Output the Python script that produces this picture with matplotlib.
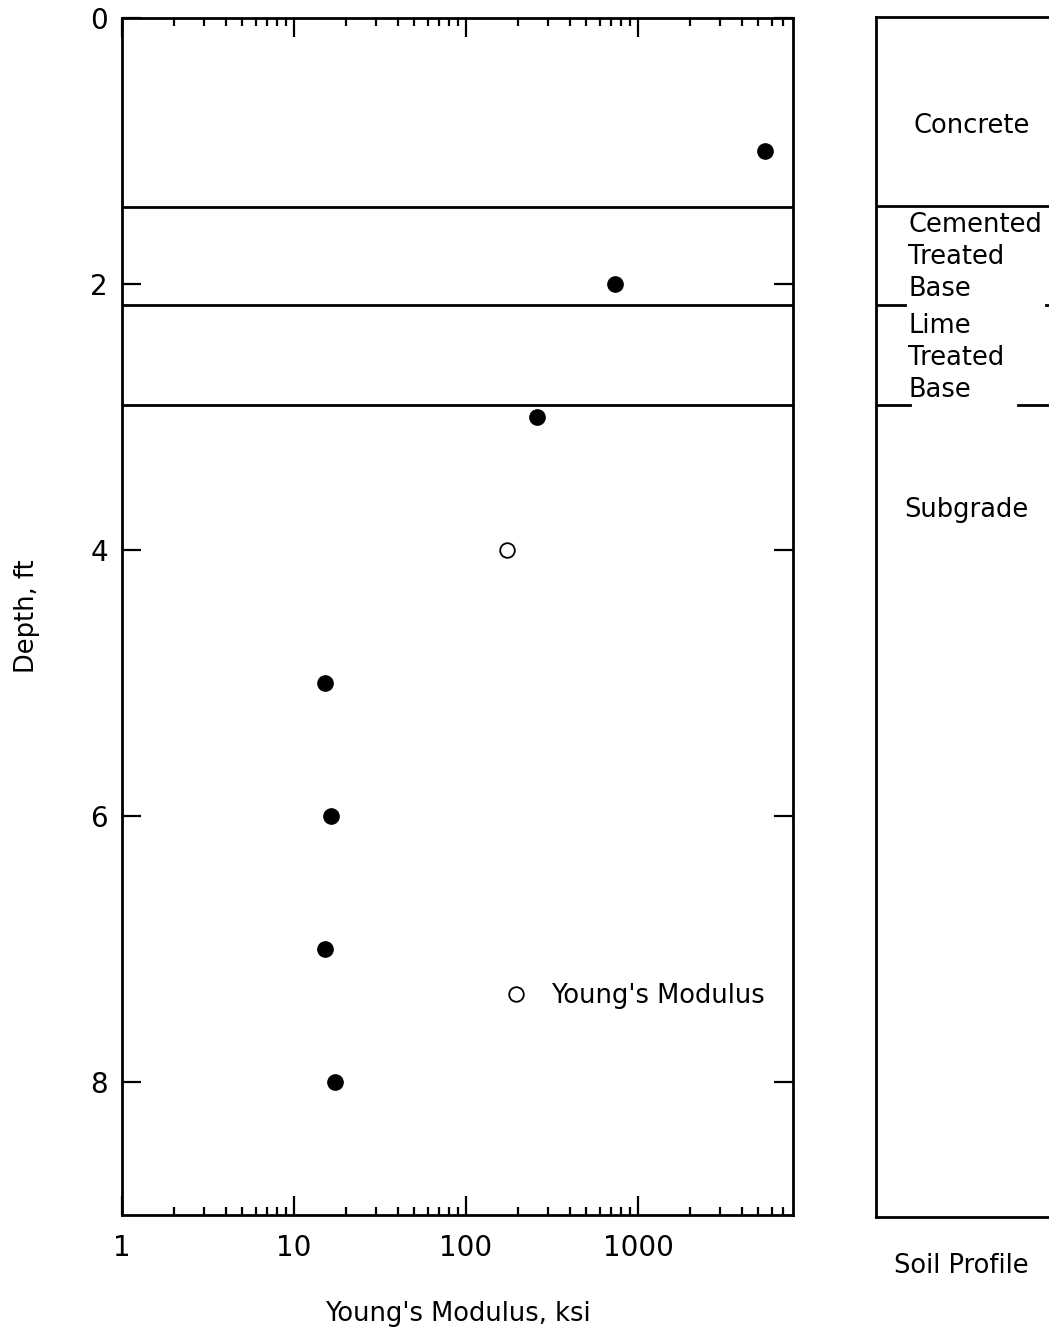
import numpy as np
import matplotlib
matplotlib.use("Agg")
import matplotlib.pyplot as plt
from matplotlib.lines import Line2D

plt.rcParams['font.family'] = ['DejaVu Sans']

# data
depth_filled = [1, 2, 3, 5, 6, 7, 8]
modulus_filled = [5500, 730, 260, 15.2, 16.3, 15.2, 17.4]
depth_open = [4]
modulus_open = [174]

layer_bounds = [1.42, 2.16, 2.91]
layer_names = ["Concrete", "Cemented\nTreated\nBase", "Lime\nTreated\nBase", "Subgrade"]

xticks = [1, 10, 100, 1000]
xticklabels = ["1", "10", "100", "1000"]
yticks = [0, 2, 4, 6, 8]

fs = 18.5

fig = plt.figure(figsize=(10.49, 13.31), dpi=100)
ax = fig.add_axes([0.1163, 0.0872, 0.6397, 0.8993])

ax.plot(modulus_filled, depth_filled, 'o', color='black', ms=11)
ax.plot(modulus_open, depth_open, 'o', mfc='white', mec='black', ms=10.5, mew=1.3)

for b in layer_bounds:
    ax.axhline(b, color='black', lw=2)

ax.set_xscale('log')
ax.set_xlim(1, 7960)
ax.set_ylim(9, 0)
ax.set_xticks(xticks)
ax.set_xticklabels(xticklabels)
ax.set_yticks(yticks)
ax.xaxis.set_minor_formatter(matplotlib.ticker.NullFormatter())
ax.tick_params(axis='both', which='major', direction='in', length=14, width=1.6,
               top=True, right=True, labelsize=20)
ax.tick_params(axis='x', which='major', pad=14)
ax.tick_params(axis='y', which='major', pad=10)
ax.tick_params(axis='x', which='minor', direction='in', length=6, width=1.6, top=True)
for s in ax.spines.values():
    s.set_linewidth(2)

ax.set_xlabel("Young's Modulus, ksi", fontsize=fs, labelpad=28)
ax.set_ylabel("Depth, ft", fontsize=fs, labelpad=36)

h = Line2D([], [], marker='o', ls='none', mfc='white', mec='black', ms=10.5, mew=1.3)
ax.legend([h], ["Young's Modulus"], loc='center left', bbox_to_anchor=(0.524, 0.183),
          frameon=False, fontsize=fs, handletextpad=0.6, handlelength=1.5)

# soil profile panel
ax2 = fig.add_axes([0.835, 0.0857, 0.3, 0.9015])
ax2.set_xlim(0, 1)
ax2.set_ylim(9, 0)
ax2.set_xticks([])
ax2.set_yticks([])
for s in ax2.spines.values():
    s.set_linewidth(2)
ax2.spines['right'].set_visible(False)
ax2.plot([0, 1], [layer_bounds[0]] * 2, color='black', lw=2)
ax2.plot([0, 0.092], [layer_bounds[1]] * 2, color='black', lw=2)
ax2.plot([0.54, 0.55], [layer_bounds[1]] * 2, color='black', lw=2)
ax2.plot([0, 0.108], [layer_bounds[2]] * 2, color='black', lw=2)
ax2.plot([0.45, 1], [layer_bounds[2]] * 2, color='black', lw=2)

ax2.text(0.121, 0.82, layer_names[0], fontsize=fs, va='center', ha='left')
ax2.text(0.102, 1.80, layer_names[1], fontsize=fs, va='center', ha='left', linespacing=1.3)
ax2.text(0.102, 2.56, layer_names[2], fontsize=fs, va='center', ha='left', linespacing=1.3)
ax2.text(0.089, 3.70, layer_names[3], fontsize=fs, va='center', ha='left')
ax2.text(0.27, 9.37, "Soil Profile", fontsize=fs, va='center', ha='center')

fig.savefig("out.png", dpi=100)
